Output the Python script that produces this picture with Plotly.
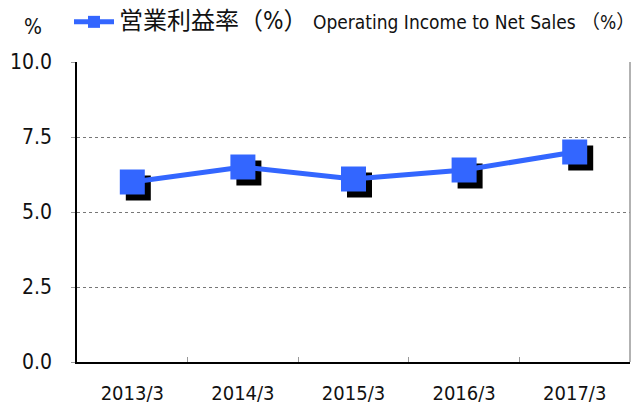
import plotly.graph_objects as go

categories = ["2013/3", "2014/3", "2015/3", "2016/3", "2017/3"]
op_margin = [6.0, 6.5, 6.1, 6.4, 7.0]
y_ticks = [0, 2.5, 5.0, 7.5, 10.0]
series_name_jp = "営業利益率（%）"
series_name_en = "Operating Income to Net Sales"
series_name_unit = "（%）"

W, H = 640, 406
ml, mr, mt, mb = 77, 4, 62, 38
pw = W - ml - mr
ph = H - mt - mb
off = 6

BLUE = "#3366FF"
FONT = "DejaVu Sans Condensed, Liberation Sans Narrow, sans-serif"

fig = go.Figure()

# shadow (offset subplot)
fig.add_trace(go.Scatter(
    x=categories, y=op_margin, mode="markers", xaxis="x", yaxis="y",
    marker=dict(symbol="square", size=25, color="black", line=dict(width=0)),
    showlegend=False, hoverinfo="skip"))

# main series
legend_name = ('<span style="font-size:24px">' + series_name_jp + "</span>"
               '<span style="font-size:19px"> ' + series_name_en + " "
               + series_name_unit + "</span>")
fig.add_trace(go.Scatter(
    x=categories, y=op_margin, mode="lines+markers", xaxis="x2", yaxis="y2",
    name=legend_name,
    line=dict(color=BLUE, width=5),
    marker=dict(symbol="square", size=25, color=BLUE, line=dict(width=0))))

fig.update_layout(
    width=W, height=H,
    margin=dict(l=ml, r=mr, t=mt, b=mb, autoexpand=False),
    paper_bgcolor="white", plot_bgcolor="rgba(0,0,0,0)",
    font=dict(family=FONT, size=22, color="#111"),
    xaxis=dict(domain=[off / pw, 1], type="category", range=[-0.5, 4.5],
               visible=False, anchor="y"),
    yaxis=dict(domain=[0, 1 - off / ph], range=[0, 10], visible=False, anchor="x"),
    xaxis2=dict(domain=[0, 1 - off / pw], type="category", range=[-0.5, 4.5],
                anchor="y2", showline=True, linecolor="black", linewidth=1.5,
                ticks="inside", tickson="boundaries", ticklen=5, tickcolor="#999",
                showgrid=False, ticklabelstandoff=12,
                tickfont=dict(family=FONT, size=20, color="#111")),
    yaxis2=dict(domain=[off / ph, 1], range=[0, 10], anchor="x2",
                tickvals=y_ticks, tickformat=".1f",
                showline=True, linecolor="black", linewidth=1.5,
                ticks="outside", ticklen=4, tickcolor="#999",
                showgrid=True, gridcolor="#777", gridwidth=1, griddash="dot",
                zeroline=False, ticklabelstandoff=15,
                tickfont=dict(family=FONT, size=21, color="#111")),
    legend=dict(x=69 / W, y=1 - 3 / H, xref="container", yref="container",
                xanchor="left", yanchor="top", bgcolor="rgba(0,0,0,0)",
                itemsizing="constant", itemwidth=40,
                font=dict(family="DejaVu Sans Condensed, Noto Sans CJK JP, sans-serif",
                          size=19, color="#111")),
    showlegend=True,
    shapes=[dict(type="line", xref="x2 domain", yref="y2 domain",
                 x0=1, x1=1, y0=0, y1=1, line=dict(color="#999", width=1.5))],
    annotations=[dict(text="%", x=0, y=1, xref="paper", yref="paper",
                      xanchor="center", yanchor="middle", showarrow=False,
                      font=dict(family=FONT, size=21, color="#111"))],
)
fig.layout.annotations[0].x = (33 - ml) / (W - ml - mr)
fig.layout.annotations[0].y = (H - mb - 27) / (H - mt - mb)

fig.write_html("out.html", config={"displayModeBar": False},
               post_script="document.body.style.margin='0px';document.body.style.padding='0px';")
